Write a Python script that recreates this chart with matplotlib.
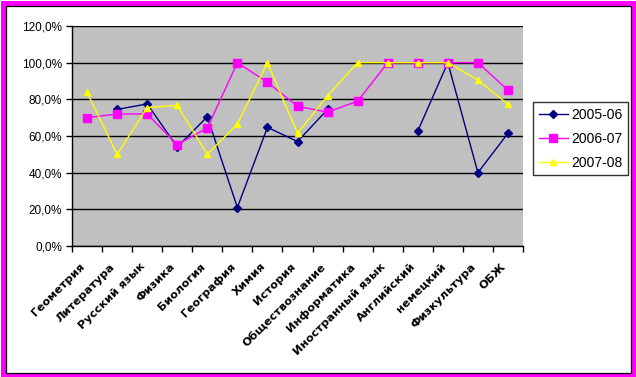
import numpy as np
import matplotlib.pyplot as plt
from matplotlib.patches import Rectangle
from matplotlib.ticker import FuncFormatter, FixedLocator

subjects = ["Геометрия", "Литература", "Русский язык", "Физика", "Биология",
            "География", "Химия", "История", "Обществознание", "Информатика",
            "Иностранный язык", "Английский", "немецкий", "Физкультура", "ОБЖ"]

nan = np.nan
# share of students, %
y2005 = [nan, 74.5, 77.5, 54, 70.5, 21, 64.7, 57, 74.5, nan, nan, 62.7, 100, 40, 61.5]
y2006 = [70, 72, 72, 55.3, 64.4, 100, 89.3, 76.2, 73, 79, 100, 100, 100, 100, 85]
y2007 = [83.8, 50, 75.5, 76.7, 50, 66.5, 100, 61.5, 82, 100, 100, 100, 100, 90.5, 77.3]

series = [("2005-06", y2005, "#000080", "D", 4.0),
          ("2006-07", y2006, "#FF00FF", "s", 5.2),
          ("2007-08", y2007, "#FFFF00", "^", 5.0)]

W, H = 636, 377
fig = plt.figure(figsize=(W / 100, H / 100), dpi=100)
fig.patch.set_facecolor("white")

ax = fig.add_axes([72 / W, 1 - 246 / H, (523 - 72) / W, (246 - 26) / H])
ax.set_facecolor("#C0C0C0")

x = np.arange(len(subjects))
for name, vals, col, mk, ms in series:
    v = np.array(vals, dtype=float)
    ax.plot(x, v, color=col, linewidth=1.0, marker=mk, markersize=ms,
            markerfacecolor=col, markeredgecolor=col, label=name, zorder=3)

ax.set_xlim(-0.5, len(subjects) - 0.5)
ax.set_ylim(0, 120)
ax.yaxis.set_major_locator(FixedLocator(np.arange(0, 121, 20)))
ax.yaxis.set_major_formatter(FuncFormatter(lambda v, p: f"{v:.1f}%".replace(".", ",")))
ax.grid(axis="y", color="black", linewidth=1.0, zorder=1)
ax.set_axisbelow(True)

ax.set_xticks(np.arange(-0.5, len(subjects), 1.0))
ax.set_xticklabels([])
ax.tick_params(axis="x", length=4, width=1, direction="out", color="black")
ax.tick_params(axis="y", length=4, width=1, direction="out", color="black",
               labelsize=8.5, pad=3)
for lbl in ax.get_yticklabels():
    lbl.set_family(["Liberation Sans", "DejaVu Sans"])

for s in ["top", "right"]:
    ax.spines[s].set_visible(False)
for s in ["left", "bottom"]:
    ax.spines[s].set_color("black")
    ax.spines[s].set_linewidth(1.0)

for i, name in enumerate(subjects):
    ax.annotate(name, xy=(i, 0), xycoords="data", xytext=(-5, -11),
                textcoords="offset points", rotation=45, ha="right", va="top",
                rotation_mode="anchor", fontsize=8.2, fontweight="bold",
                family=["DejaVu Sans"])

leg = fig.legend(loc="upper left", bbox_to_anchor=(533 / W, 1 - 102 / H),
                 frameon=True, fancybox=False, edgecolor="black",
                 prop={"family": ["Liberation Sans", "DejaVu Sans"], "size": 10},
                 handlelength=2.1, borderpad=0.4, labelspacing=0.72,
                 handletextpad=0.25, borderaxespad=0)
leg.get_frame().set_linewidth(1.0)
leg.get_frame().set_boxstyle("square", pad=0)

# magenta outer frame with thin black inner line
fig.patches.append(Rectangle((2.5 / W, 2.5 / H), 1 - 5 / W, 1 - 5 / H,
                             transform=fig.transFigure, fill=False,
                             edgecolor="#FF00FF", linewidth=3.6))
fig.patches.append(Rectangle((5.5 / W, 4.5 / H), 1 - 10.5 / W, 1 - 10 / H,
                             transform=fig.transFigure, fill=False,
                             edgecolor="black", linewidth=0.9))

fig.savefig("out.png", dpi=100)
